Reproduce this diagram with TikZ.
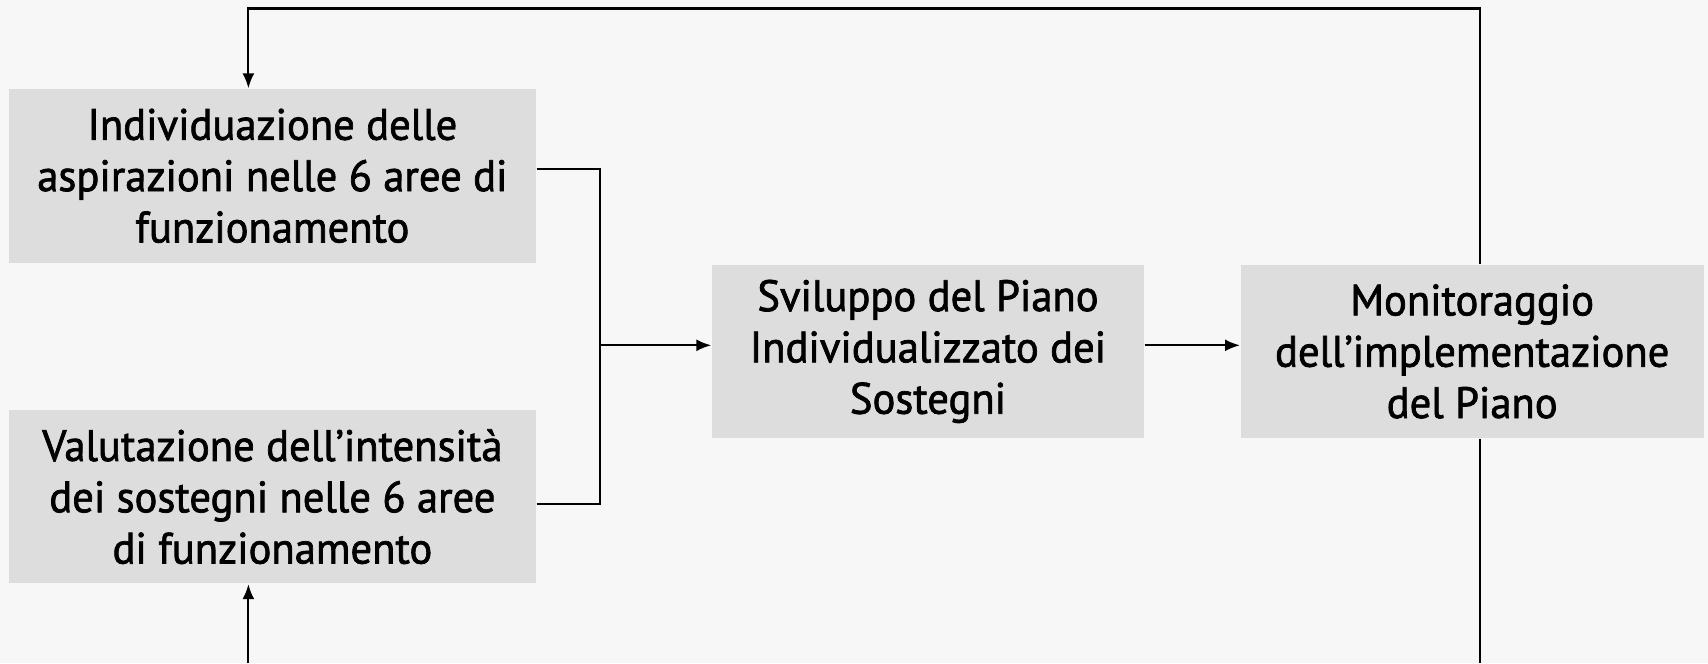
\documentclass[tikz,border=0pt]{standalone}
\usepackage{fontspec}
\setmainfont{PT Sans}[FakeBold=1.6, FakeStretch=0.97]
\usetikzlibrary{arrows.meta}
\definecolor{boxgray}{RGB}{221,221,221}
\definecolor{paper}{RGB}{247,247,247}
\tikzset{
  stage/.style={fill=boxgray, align=center, inner sep=0pt, minimum height=1.735cm,
    font=\fontsize{12.5}{14.6}\selectfont},
  link/.style={line width=0.6pt},
  arr/.style={link, -{Latex[length=1.5mm,width=1.2mm]}},
}

\begin{document}
\begin{tikzpicture}
      \fill[paper] (0,0) rectangle (17.08,6.63);
      \useasboundingbox (0,0) rectangle (17.08,6.63);
      \node[stage, minimum width=5.27cm] (ind) at (2.724, 4.872) {Individuazione delle\\aspirazioni nelle 6 aree di\\funzionamento};
      \node[stage, minimum width=5.27cm] (val) at (2.724, 1.663) {Valutazione dell’intensità\\dei sostegni nelle 6 aree\\di funzionamento};
      \node[stage, minimum width=4.32cm] (svi) at (9.28, 3.116) {Sviluppo del Piano\\Individualizzato dei\\Sostegni};
      \node[stage, minimum width=4.63cm] (mon) at (14.722, 3.116) {Monitoraggio\\dell’implementazione\\del Piano};
      \coordinate (jn) at (6.002, 3.177);
      \coordinate (loopR) at (14.80, 6.545);
      \coordinate (loopL) at (2.484, 6.545);
      \coordinate (botR) at (14.80, 0);
      \coordinate (botL) at (2.484, 0);
      \draw[link] ([yshift=0.7mm]ind.east) -| (jn);
      \draw[link] ([yshift=-0.76mm]val.east) -| (jn);
      \draw[arr] (jn) -- (jn -| svi.west);
      \draw[arr] (svi.east |- jn) -- (mon.west |- jn);
      \draw[arr] (loopR |- mon.north) -- (loopR) -- (loopL) -- (loopL |- ind.north);
      \draw[link] (loopR |- mon.south) -- (botR);
      \draw[arr] (botL) -- (botL |- val.south);
\end{tikzpicture}
\end{document}
